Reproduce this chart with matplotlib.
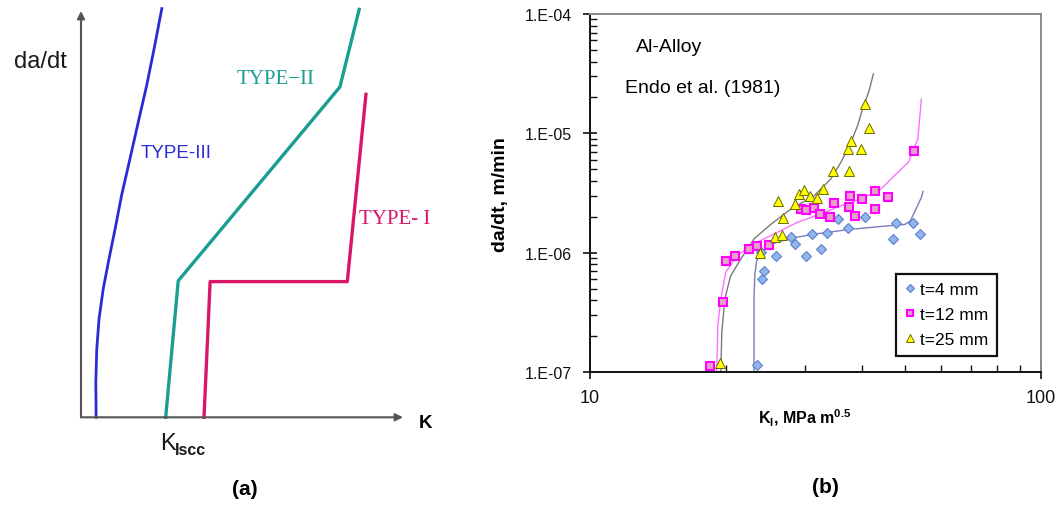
import numpy as np
import matplotlib
matplotlib.use("Agg")
import matplotlib.pyplot as plt
from matplotlib.lines import Line2D
from matplotlib.ticker import FixedLocator, FuncFormatter, LogLocator, NullFormatter

plt.rcParams['font.family'] = ['Liberation Sans', 'DejaVu Sans']
plt.rcParams['mathtext.fontset'] = 'custom'
plt.rcParams['mathtext.rm'] = 'Liberation Sans'
plt.rcParams['mathtext.bf'] = 'Liberation Sans:bold'

# ---------------- (a) schematic crack-growth curves (normalised K, da/dt) ----------------
type3_k = [0.047, 0.046, 0.049, 0.056, 0.069, 0.087, 0.106, 0.126, 0.152, 0.178, 0.204, 0.227, 0.251]
type3_r = [0.000, 0.086, 0.168, 0.242, 0.316, 0.390, 0.464, 0.546, 0.636, 0.727, 0.817, 0.907, 1.006]
type2_k = [0.263, 0.302, 0.804, 0.864]
type2_r = [0.000, 0.336, 0.813, 1.004]
type1_k = [0.382, 0.401, 0.827, 0.885]
type1_r = [0.000, 0.334, 0.334, 0.795]

# ---------------- (b) Al-alloy SCC data, Endo et al. (1981) ----------------
k_t4 = [23.4, 24.1, 24.3, 24.0, 25.8, 27.9, 28.5, 30.2, 31.1, 32.5, 33.6, 35.4,
        37.3, 40.8, 47.0, 47.8, 52.0, 53.8]
r_t4 = [1.16e-7, 6.0e-7, 7.1e-7, 1.01e-6, 9.5e-7, 1.36e-6, 1.19e-6, 9.5e-7, 1.43e-6,
        1.08e-6, 1.47e-6, 1.91e-6, 1.61e-6, 2.0e-6, 1.30e-6, 1.77e-6, 1.77e-6, 1.45e-6]

k_t12 = [18.5, 19.7, 20.0, 21.0, 22.5, 23.5, 24.9, 29.4, 30.1, 31.4, 32.4, 34.1, 34.8,
         37.6, 37.8, 38.6, 40.0, 42.9, 42.9, 45.8, 52.3]
r_t12 = [1.14e-7, 3.9e-7, 8.5e-7, 9.5e-7, 1.07e-6, 1.14e-6, 1.17e-6, 2.34e-6, 2.30e-6,
         2.37e-6, 2.11e-6, 2.0e-6, 2.61e-6, 2.40e-6, 2.97e-6, 2.02e-6, 2.84e-6, 3.30e-6,
         2.33e-6, 2.91e-6, 7.1e-6]

k_t25 = [19.4, 23.8, 25.7, 26.6, 26.8, 26.1, 28.5, 29.0, 29.8, 30.8, 31.8, 32.9, 34.6,
         37.5, 37.3, 39.8, 38.0, 41.5, 40.8]
r_t25 = [1.19e-7, 1.0e-6, 1.36e-6, 1.42e-6, 1.96e-6, 2.70e-6, 2.58e-6, 3.12e-6, 3.37e-6,
         2.97e-6, 2.87e-6, 3.43e-6, 4.89e-6, 4.87e-6, 7.36e-6, 7.4e-6, 8.6e-6, 1.10e-5, 1.75e-5]

# trend curves
fit_k_t4 = [23.1, 23.1, 23.2, 23.4, 24.0, 25.8, 28.4, 31.2, 37.6, 45.4, 49.9, 51.3, 52.8, 54.3, 54.8]
fit_r_t4 = [1.0e-7, 4.2e-7, 6.6e-7, 8.5e-7, 1.03e-6, 1.22e-6, 1.34e-6, 1.43e-6, 1.57e-6,
            1.68e-6, 1.73e-6, 1.85e-6, 2.32e-6, 2.92e-6, 3.27e-6]
fit_k_t12 = [19.1, 19.2, 19.5, 20.0, 21.2, 23.1, 25.6, 28.8, 32.5, 36.0, 39.9, 44.2, 47.3, 50.8, 53.3, 54.3]
fit_r_t12 = [1.0e-7, 2.46e-7, 4.1e-7, 6.9e-7, 9.5e-7, 1.19e-6, 1.44e-6, 1.80e-6, 2.12e-6,
             2.48e-6, 2.82e-6, 3.43e-6, 4.43e-6, 5.73e-6, 8.97e-6, 1.94e-5]
fit_k_t25 = [19.5, 19.6, 19.9, 20.5, 21.6, 23.1, 25.2, 27.9, 31.4, 34.2, 36.0, 37.9, 39.2, 40.2, 41.6, 42.5]
fit_r_t25 = [1.0e-7, 2.16e-7, 4.1e-7, 6.4e-7, 8.9e-7, 1.31e-6, 1.74e-6, 2.33e-6, 3.01e-6,
             4.16e-6, 5.73e-6, 8.43e-6, 1.16e-5, 1.6e-5, 2.3e-5, 3.15e-5]

y_major = [1e-7, 1e-6, 1e-5, 1e-4]
x_major = [10, 100]
legend_labels = ['t=4 mm', 't=12 mm', 't=25 mm']

W, H = 1059, 506
fig = plt.figure(figsize=(W / 100, H / 100), dpi=100)


def fx(x):
    return x / W


def fy(y):
    return 1 - y / H


# ---------------- panel (a) ----------------
ax_a = fig.add_axes([fx(81), fy(418.3), (403 - 81) / W, (418.3 - 12) / H])
ax_a.set_xlim(0, 1)
ax_a.set_ylim(0, 1)
ax_a.axis('off')
arrow = dict(arrowstyle='-|>', color='#555555', lw=1.5, mutation_scale=11, shrinkA=0, shrinkB=0)
ax_a.annotate('', xy=(0, 1), xytext=(0, 0), arrowprops=arrow, annotation_clip=False)
ax_a.annotate('', xy=(1, 0), xytext=(0, 0), arrowprops=arrow, annotation_clip=False)

c3, c2, c1 = '#2b2bd6', '#1b9e92', '#d8176a'
ax_a.plot(type3_k, type3_r, color=c3, lw=2.0, clip_on=False)
ax_a.plot(type2_k, type2_r, color=c2, lw=2.4, clip_on=False)
ax_a.plot(type1_k, type1_r, color=c1, lw=2.4, clip_on=False)

fig.text(fx(40), fy(62), 'da/dt', fontsize=17, ha='center', va='center', color='#1a1a1a')
fig.text(fx(176), fy(153), 'TYPE-III', fontsize=13.5, ha='center', va='center', color=c3)
fig.text(fx(276), fy(79), 'TYPE\u2212II', fontsize=15, ha='center', va='center', color=c2,
         family='Liberation Serif')
fig.text(fx(395), fy(220), 'TYPE- I', fontsize=15, ha='center', va='center', color=c1,
         family='Liberation Serif')
fig.text(fx(426), fy(424), 'K', fontsize=13.5, ha='center', va='center', fontweight='bold')
fig.text(fx(160), fy(444), 'K', fontsize=17, ha='left', va='center', color='#1a1a1a')
fig.text(fx(175), fy(451), 'Iscc', fontsize=11.5, ha='left', va='center', fontweight='bold',
         color='#1a1a1a')
fig.text(fx(245), fy(490), '(a)', fontsize=15, ha='center', va='center', fontweight='bold')

# ---------------- panel (b) ----------------
ax_b = fig.add_axes([fx(590), fy(373.3), (1041 - 590) / W, (373.3 - 15) / H])
ax_b.set_xscale('log')
ax_b.set_yscale('log')

ax_b.plot(fit_k_t4, fit_r_t4, color='#7c7cc0', lw=1.0)
ax_b.plot(fit_k_t12, fit_r_t12, color='#ff70ff', lw=1.0)
ax_b.plot(fit_k_t25, fit_r_t25, color='#7a7a7a', lw=1.0)

dia = dict(marker='D', ms=5.5, mfc='#92b5ea', mec='#5b7fd0', mew=0.8, ls='none')
sq = dict(marker='s', ms=5.5, mfc='#e7a0c8', mec='#ff00ff', mew=1.5, ls='none')
tri = dict(marker='^', ms=7.5, mfc='#ffff00', mec='#6b6b00', mew=0.7, ls='none')
ax_b.plot(k_t4, r_t4, **dia)
ax_b.plot(k_t12, r_t12, **sq)
ax_b.plot(k_t25, r_t25, **tri)

ax_b.set_xlim(10, 100)
ax_b.set_ylim(1e-7, 1e-4)

ax_b.yaxis.set_major_locator(FixedLocator(y_major))
ax_b.yaxis.set_major_formatter(FuncFormatter(lambda v, p: '1.E-%02d' % round(-np.log10(v))))
ax_b.yaxis.set_minor_locator(LogLocator(base=10, subs=np.arange(2, 10)))
ax_b.yaxis.set_minor_formatter(NullFormatter())
ax_b.xaxis.set_major_locator(FixedLocator(x_major))
ax_b.xaxis.set_major_formatter(FuncFormatter(lambda v, p: '%d' % round(v)))
ax_b.xaxis.set_minor_locator(LogLocator(base=10, subs=np.arange(2, 10)))
ax_b.xaxis.set_minor_formatter(NullFormatter())

ax_b.tick_params(which='major', direction='inout', length=10, width=1.2, colors='#111111')
ax_b.tick_params(which='minor', direction='in', length=5, width=1.0, colors='#111111')
ax_b.tick_params(axis='y', which='major', labelsize=11.5, pad=8)
ax_b.tick_params(axis='x', which='major', labelsize=13, pad=7)

for s in ('left', 'bottom'):
    ax_b.spines[s].set_color('#111111')
    ax_b.spines[s].set_linewidth(1.4)
for s in ('top', 'right'):
    ax_b.spines[s].set_color('#8a8a8a')
    ax_b.spines[s].set_linewidth(1.4)

ax_b.set_ylabel('da/dt, m/min', fontsize=14, fontweight='bold', va='center')
ax_b.yaxis.set_label_coords((501 - 590) / 451, 0.5)
ax_b.set_xlabel(r'K$_\mathbf{I}$, MPa m$^{\mathbf{0.5}}$', fontsize=11.5, fontweight='bold',
                va='center')
ax_b.xaxis.set_label_coords((805 - 590) / 451, (373.3 - 418) / 358.3)

ax_b.text((636 - 590) / 451, (373.3 - 47) / 358.3, 'Al-Alloy', transform=ax_b.transAxes,
          fontsize=14, ha='left', va='center')
ax_b.text((625 - 590) / 451, (373.3 - 88) / 358.3, 'Endo et al. (1981)', transform=ax_b.transAxes,
          fontsize=14, ha='left', va='center')

handles = [Line2D([], [], **{**dia, 'ms': 4.5}),
           Line2D([], [], **{**sq, 'ms': 4.5}),
           Line2D([], [], **{**tri, 'ms': 6})]
leg = ax_b.legend(handles, legend_labels, loc='lower right',
                  bbox_to_anchor=((997 - 590) / 451, (373.3 - 356.5) / 358.3),
                  frameon=True, fancybox=False, edgecolor='#111111', framealpha=1,
                  borderaxespad=0, handlelength=0.6, handletextpad=0.3, labelspacing=0.55,
                  borderpad=0.5, prop=dict(size=12.5))
leg.get_frame().set_linewidth(1.6)

fig.text(fx(825), fy(488), '(b)', fontsize=15, ha='center', va='center', fontweight='bold')

fig.savefig('out.png', dpi=100)
